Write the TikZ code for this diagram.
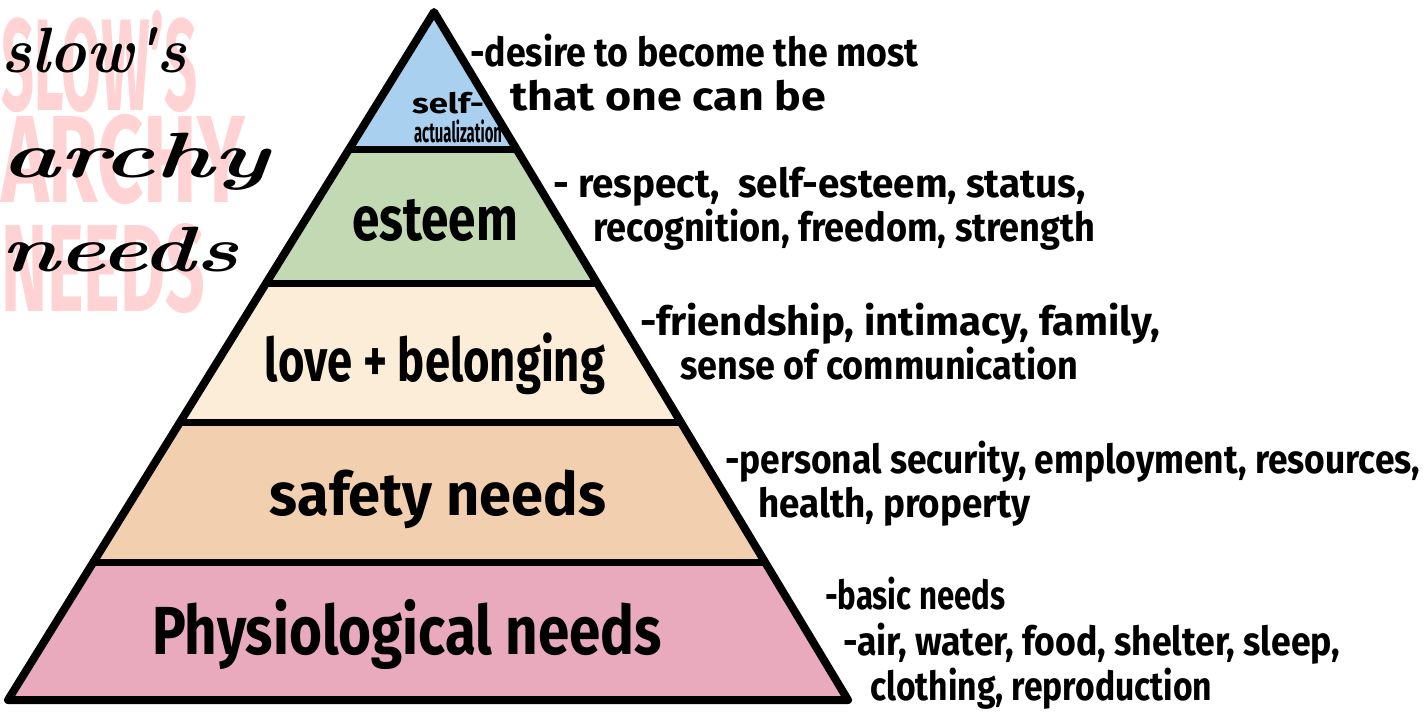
\documentclass[tikz,border=0pt]{standalone}
\usepackage{fontspec}
\setmainfont{Fira Sans}
\newfontfamily\scriptf{Latin Modern Roman}
\usetikzlibrary{calc}
\definecolor{cTop}{HTML}{A9D0EE}
\definecolor{cEst}{HTML}{C2D9B4}
\definecolor{cLove}{HTML}{FCEDD9}
\definecolor{cSafe}{HTML}{F2CFAE}
\definecolor{cPhys}{HTML}{E9AABE}
\definecolor{cPinkT}{HTML}{FF8C8C}
\newcommand{\hw}[2]{\resizebox{#1}{\height}{#2}}
\newcommand{\descfont}{\fontsize{40}{48}\selectfont\bfseries}
\begin{document}
\begin{tikzpicture}[x=1pt,y=-1pt,line join=round,line cap=round,
  desc/.style={anchor=base west,inner sep=0pt,font=\descfont},
  lvl/.style={anchor=base,inner sep=0pt,font=\bfseries},
  pinkt/.style={anchor=south west,inner sep=0pt,text=cPinkT,text opacity=0.38,font=\bfseries},
  scr/.style={anchor=base west,inner sep=0pt,font=\scriptf\bfseries\itshape},
  edge/.style={line width=8pt},
  band/.style={line width=7pt}]
\useasboundingbox (0,0) rectangle (1424,716);
\clip (0,0) rectangle (1424,716);
\fill[white] (0,0) rectangle (1424,716);

% ---- title ----
\node[pinkt] (pt1) at (1,113) {\resizebox{196pt}{100pt}{SLOW'S}};
\node[pinkt] (pt2) at (1,205) {\resizebox{244pt}{88pt}{ARCHY}};
\node[pinkt] (pt3) at (1,314) {\resizebox{204pt}{88pt}{NEEDS}};
\node[scr] (st1) at (1,72) {\resizebox{185pt}{\height}{\fontsize{64}{70}\selectfont slow's}};
\node[scr] (st2) at (1,177) {\resizebox{267pt}{\height}{\fontsize{64}{70}\selectfont archy}};
\node[scr] (st3) at (1,271) {\resizebox{237pt}{\height}{\fontsize{64}{70}\selectfont needs}};

% ---- pyramid ----
\coordinate (A) at (434,12);
\coordinate (BL) at (8,700);
\coordinate (BR) at (848,700);
\foreach \n/\t in {1/0.2,2/0.394,3/0.596,4/0.8}{
  \coordinate (L\n) at ($(A)!\t!(BL)$);
  \coordinate (R\n) at ($(A)!\t!(BR)$);
}
\fill[cTop]  (A) -- (L1) -- (R1) -- cycle;
\fill[cEst]  (L1) -- (L2) -- (R2) -- (R1) -- cycle;
\fill[cLove] (L2) -- (L3) -- (R3) -- (R2) -- cycle;
\fill[cSafe] (L3) -- (L4) -- (R4) -- (R3) -- cycle;
\fill[cPhys] (L4) -- (BL) -- (BR) -- (R4) -- cycle;

% level labels
\node[lvl] (sa1) at (448,113) {\hw{72pt}{\fontsize{28}{30}\selectfont self-}};
\node[lvl] (sa2) at (458,142) {\hw{88pt}{\fontsize{28}{30}\selectfont actualization}};
\node[lvl] (es) at (435,240) {\hw{166pt}{\fontsize{62}{70}\selectfont esteem}};
\node[lvl] (lb) at (435,381) {\hw{340pt}{\fontsize{60}{70}\selectfont love + belonging}};
\node[lvl] (sn) at (438,515) {\hw{336pt}{\fontsize{60}{70}\selectfont safety needs}};
\node[lvl] (pn) at (407,654) {\hw{510pt}{\fontsize{68}{76}\selectfont Physiological needs}};

\foreach \n in {1,2,3,4}{ \draw[band] (L\n) -- (R\n); }
\draw[edge] (A) -- (BL) -- (BR) -- cycle;

% ---- descriptions ----
\node[desc] (d1a) at (470,66)  {\hw{448pt}{-desire to become the most}};
\node[desc] (d1b) at (510,110) {\hw{316pt}{that one can be}};
\node[desc] (d2a) at (553,197) {\hw{532pt}{- respect, \ self-esteem, status,}};
\node[desc] (d2b) at (593,241) {\hw{502pt}{recognition, freedom, strength}};
\node[desc] (d3a) at (640,335) {\hw{520pt}{-friendship, intimacy, family,}};
\node[desc] (d3b) at (680,379) {\hw{398pt}{sense of communication}};
\node[desc] (d4a) at (725,473) {\hw{695pt}{-personal security, employment, resources,}};
\node[desc] (d4b) at (758,517) {\hw{272pt}{health, property}};
\node[desc] (d5a) at (825,609) {\hw{180pt}{-basic needs}};
\node[desc] (d5b) at (843,655) {\hw{497pt}{-air, water, food, shelter, sleep,}};
\node[desc] (d5c) at (870,700) {\hw{342pt}{clothing, reproduction}};
\end{tikzpicture}
\end{document}
